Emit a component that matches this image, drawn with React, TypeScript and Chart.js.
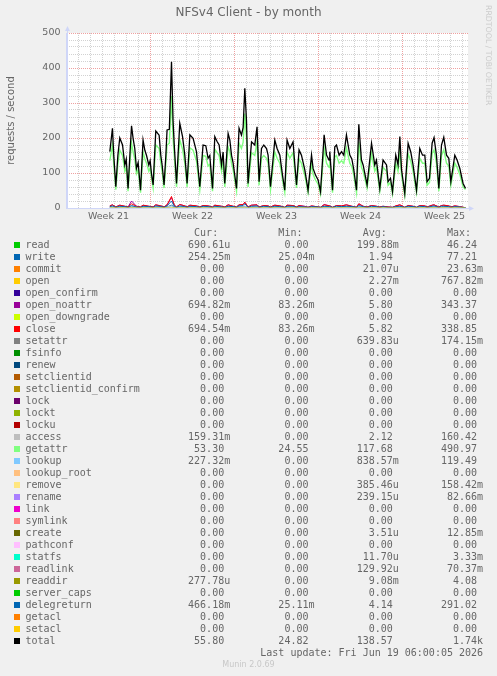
import React, { useEffect, useRef } from "react";
import { Chart, registerables } from "chart.js";

Chart.register(...registerables);

const TITLE = "NFSv4 Client - by month";
const Y_TITLE = "requests / second";
const WATERMARK = "RRDTOOL / TOBI OETIKER";
const LAST_UPDATE = "Last update: Fri Jun 19 06:00:05 2026";
const VERSION = "Munin 2.0.69";

const weekLabels = ["Week 21", "Week 22", "Week 23", "Week 24", "Week 25"];
const weekLabelDays = [3.5, 10.5, 17.5, 24.5, 31.5];
const X_MAX_DAYS = 33.46;
const Y_MAX = 500;
const Y_STEP = 20;

// time in days from left edge of graph
const totalTimes = [
  3.61, 3.83, 3.94, 4.11, 4.28, 4.44, 4.67, 4.86, 4.98, 5.13,
  5.28, 5.42, 5.55, 5.69, 5.83, 5.97, 6.17, 6.38, 6.53, 6.67,
  6.86, 6.97, 7.08, 7.22, 7.44, 7.72, 7.86, 7.98, 8.13, 8.28,
  8.38, 8.57, 8.75, 8.88, 8.98, 9.17, 9.44, 9.67, 9.86, 10.05,
  10.28, 10.55, 10.83, 11.11, 11.38, 11.61, 11.8, 11.94, 12.17, 12.36,
  12.55, 12.72, 12.92, 13.05, 13.19, 13.47, 13.61, 13.75, 13.88, 14.17,
  14.38, 14.58, 14.72, 14.86, 15.0, 15.13, 15.42, 15.69, 15.88, 16.05,
  16.25, 16.44, 16.67, 16.8, 17.0, 17.36, 17.55, 17.78, 18.0, 18.19,
  18.38, 18.61, 18.88, 19.03, 19.17, 19.38, 19.58, 19.86, 20.13, 20.42,
  20.55, 20.75, 20.97, 21.17, 21.47, 21.67, 21.88, 21.94, 22.17, 22.36,
  22.5, 22.72, 22.92, 23.11, 23.33, 23.47, 23.61, 23.78, 23.94, 24.17,
  24.36, 24.58, 24.72, 25.05, 25.42, 25.69, 25.83, 26.11, 26.38, 26.67,
  26.8, 27.0, 27.17, 27.44, 27.63, 27.78, 27.92, 28.19, 28.47, 28.69,
  28.88, 29.17, 29.44, 29.67, 29.86, 30.05, 30.25, 30.47, 30.63, 30.83,
  31.03, 31.25, 31.44, 31.67, 31.86, 32.03, 32.36, 32.55, 32.78, 32.92,
  33.05, 33.25,
];
const totalValues = [
  161, 228, 150, 61, 150, 200, 180, 123, 140, 56,
  150, 235, 199, 170, 113, 130, 51, 194, 165, 150,
  123, 135, 99, 66, 220, 208, 150, 120, 66, 150,
  223, 225, 418, 250, 180, 70, 242, 204, 151, 70,
  209, 199, 161, 61, 180, 178, 142, 150, 56, 204,
  190, 180, 123, 160, 70, 213, 195, 151, 130, 56,
  228, 208, 230, 342, 250, 70, 189, 180, 232, 75,
  170, 180, 170, 151, 61, 194, 170, 151, 94, 51,
  194, 170, 189, 123, 66, 166, 151, 109, 51, 151,
  113, 94, 80, 47, 209, 151, 137, 161, 51, 175,
  180, 151, 161, 151, 209, 180, 151, 140, 110, 51,
  239, 137, 123, 66, 185, 123, 137, 56, 137, 123,
  75, 85, 47, 151, 123, 204, 110, 42, 185, 160,
  123, 51, 170, 151, 151, 75, 85, 185, 201, 151,
  56, 180, 202, 151, 142, 75, 151, 137, 113, 90,
  70, 56,
];
const getattrValues = [
  135, 180, 125, 52, 125, 165, 150, 105, 118, 48,
  125, 185, 160, 140, 98, 110, 44, 160, 140, 128,
  105, 115, 86, 57, 180, 170, 128, 102, 57, 128,
  180, 185, 320, 200, 150, 60, 195, 168, 128, 60,
  172, 165, 135, 52, 150, 148, 120, 125, 48, 168,
  158, 150, 105, 133, 60, 175, 162, 128, 110, 48,
  185, 170, 188, 270, 200, 60, 158, 150, 190, 65,
  142, 150, 142, 128, 52, 160, 142, 128, 80, 44,
  160, 142, 158, 105, 57, 140, 128, 93, 44, 128,
  96, 80, 68, 40, 172, 128, 116, 135, 44, 146,
  150, 128, 135, 128, 172, 150, 128, 118, 94, 44,
  190, 116, 105, 57, 155, 105, 116, 48, 116, 105,
  65, 73, 40, 128, 105, 168, 94, 36, 155, 134,
  105, 44, 142, 128, 128, 65, 73, 155, 166, 128,
  48, 150, 166, 128, 120, 65, 128, 116, 96, 77,
  60, 53,
];

const smallTimes = [
  3.61, 3.83, 4.11, 4.44, 4.86, 5.13, 5.42, 5.83, 6.17, 6.38,
  6.86, 7.22, 7.44, 7.86, 8.13, 8.38, 8.75, 8.98, 9.17, 9.44,
  9.86, 10.05, 10.28, 10.83, 11.11, 11.38, 11.8, 12.17, 12.36, 12.92,
  13.19, 13.47, 13.88, 14.17, 14.38, 14.72, 14.86, 15.13, 15.42, 15.88,
  16.05, 16.44, 16.8, 17.0, 17.36, 17.78, 18.19, 18.38, 18.88, 19.17,
  19.38, 19.86, 20.13, 20.42, 20.97, 21.17, 21.47, 21.94, 22.17, 22.5,
  22.92, 23.33, 23.78, 24.17, 24.36, 24.72, 25.05, 25.42, 25.83, 26.11,
  26.38, 26.8, 27.17, 27.44, 27.78, 28.19, 28.47, 28.88, 29.17, 29.44,
  29.86, 30.05, 30.47, 30.63, 31.03, 31.25, 31.44, 31.86, 32.03, 32.36,
  32.78, 33.25,
];
const closeValues = [
  6, 9, 3, 8, 5, 3, 12, 5, 3, 8,
  5, 3, 9, 6, 3, 9, 33, 8, 3, 10,
  6, 3, 8, 6, 3, 7, 6, 3, 8, 5,
  3, 9, 5, 3, 9, 10, 17, 3, 8, 9,
  3, 7, 6, 3, 8, 6, 2, 8, 7, 3,
  7, 4, 2, 6, 3, 2, 9, 6, 2, 7,
  6, 9, 5, 2, 12, 5, 3, 7, 5, 3,
  5, 3, 2, 6, 9, 2, 7, 5, 2, 7,
  6, 3, 8, 9, 3, 7, 8, 6, 3, 6,
  4, 0.7,
];
const openNoattrValues = [
  6, 9, 3, 8, 5, 3, 20, 5, 3, 8,
  5, 3, 9, 6, 3, 9, 30, 8, 3, 10,
  6, 3, 8, 6, 3, 7, 6, 3, 8, 5,
  3, 9, 5, 3, 9, 10, 15, 3, 8, 9,
  3, 7, 6, 3, 8, 6, 2, 8, 7, 3,
  7, 5, 2, 6, 3, 2, 10, 6, 2, 7,
  6, 9, 5, 2, 12, 5, 3, 7, 5, 3,
  5, 3, 2, 6, 9, 2, 7, 5, 2, 7,
  6, 3, 8, 9, 3, 7, 8, 6, 3, 6,
  4, 0.7,
];
const delegreturnValues = [
  4, 6, 2, 5, 4, 2, 7, 3, 2, 5,
  4, 2, 6, 4, 2, 6, 20, 5, 2, 6,
  4, 2, 5, 4, 2, 5, 4, 2, 5, 3,
  2, 5, 4, 2, 6, 7, 12, 2, 5, 6,
  2, 5, 4, 2, 5, 4, 2, 5, 5, 2,
  4, 3, 2, 4, 3, 2, 5, 4, 2, 5,
  4, 5, 4, 2, 7, 4, 2, 5, 4, 2,
  4, 2, 2, 4, 5, 2, 5, 4, 2, 5,
  4, 2, 5, 6, 2, 5, 5, 4, 2, 4,
  3, 0.5,
];
const writeValues = [
  2, 3, 1, 2, 2, 1, 3, 2, 1, 2,
  2, 1, 3, 2, 1, 3, 8, 3, 1, 3,
  2, 1, 3, 2, 1, 2, 2, 1, 3, 2,
  1, 3, 2, 1, 3, 3, 5, 1, 2, 3,
  1, 2, 2, 1, 2, 2, 1, 2, 2, 1,
  2, 2, 1, 2, 1, 1, 3, 2, 1, 2,
  2, 3, 2, 1, 3, 2, 1, 2, 2, 1,
  2, 1, 1, 2, 3, 1, 2, 2, 1, 2,
  2, 1, 2, 3, 1, 2, 3, 2, 1, 2,
  2, 0.25,
];
const accessValues = [
  2, 3, 1, 3, 2, 1, 3, 2, 1, 3,
  2, 1, 3, 2, 1, 3, 6, 2, 1, 3,
  2, 1, 3, 2, 1, 2, 2, 1, 3, 2,
  1, 3, 2, 1, 3, 3, 5, 1, 3, 3,
  1, 2, 2, 1, 3, 2, 1, 3, 2, 1,
  2, 2, 1, 2, 1, 1, 3, 2, 1, 2,
  2, 3, 2, 1, 3, 2, 1, 2, 2, 1,
  2, 1, 1, 2, 3, 1, 2, 2, 1, 3,
  2, 1, 3, 3, 1, 2, 3, 2, 1, 2,
  2, 0.16,
];
const lookupValues = [
  1, 1, 0.3, 1, 1, 0.3, 1.5, 0.8, 0.3, 1,
  0.8, 0.3, 1, 1, 0.3, 1, 3, 1, 0.3, 1.5,
  1, 0.3, 1, 1, 0.3, 1, 0.8, 0.3, 1, 0.8,
  0.3, 1, 0.8, 0.3, 1, 1, 2, 0.3, 1, 1,
  0.3, 1, 0.8, 0.3, 1, 0.8, 0.3, 1, 1, 0.3,
  1, 0.6, 0.3, 0.8, 0.4, 0.3, 1, 1, 0.3, 1,
  1, 1, 0.8, 0.3, 1.5, 0.8, 0.3, 1, 0.8, 0.3,
  0.8, 0.4, 0.3, 0.8, 1, 0.3, 1, 0.8, 0.3, 1,
  0.8, 0.4, 1, 1, 0.3, 1, 1, 0.8, 0.4, 0.8,
  0.6, 0.23,
];
const baselineTimes = [3.61, 33.25];
const setaclValues = [0, 0];

const legendNames = [
  "read", "write", "commit", "open", "open_confirm", "open_noattr", "open_downgrade",
  "close", "setattr", "fsinfo", "renew", "setclientid", "setclientid_confirm", "lock",
  "lockt", "locku", "access", "getattr", "lookup", "lookup_root", "remove", "rename",
  "link", "symlink", "create", "pathconf", "statfs", "readlink", "readdir", "server_caps",
  "delegreturn", "getacl", "setacl", "total",
];
const legendColors = [
  "#00CC00", "#0066B3", "#FF8000", "#FFCC00", "#330099", "#990099", "#CCFF00",
  "#FF0000", "#808080", "#008F00", "#00487D", "#B35A00", "#B38F00", "#6B006B",
  "#8FB300", "#B30000", "#BEBEBE", "#80FF80", "#80C9FF", "#FFC080", "#FFE680", "#AA80FF",
  "#EE00CC", "#FF8080", "#666600", "#FFBFFF", "#00FFCC", "#CC6699", "#999900", "#00CC00",
  "#0066B3", "#FF8000", "#FFCC00", "#000000",
];
const legendCur = [
  "690.61u", "254.25m", "0.00", "0.00", "0.00", "694.82m", "0.00",
  "694.54m", "0.00", "0.00", "0.00", "0.00", "0.00", "0.00",
  "0.00", "0.00", "159.31m", "53.30", "227.32m", "0.00", "0.00", "0.00",
  "0.00", "0.00", "0.00", "0.00", "0.00", "0.00", "277.78u", "0.00",
  "466.18m", "0.00", "0.00", "55.80",
];
const legendMin = [
  "0.00", "25.04m", "0.00", "0.00", "0.00", "83.26m", "0.00",
  "83.26m", "0.00", "0.00", "0.00", "0.00", "0.00", "0.00",
  "0.00", "0.00", "0.00", "24.55", "0.00", "0.00", "0.00", "0.00",
  "0.00", "0.00", "0.00", "0.00", "0.00", "0.00", "0.00", "0.00",
  "25.11m", "0.00", "0.00", "24.82",
];
const legendAvg = [
  "199.88m", "1.94", "21.07u", "2.27m", "0.00", "5.80", "0.00",
  "5.82", "639.83u", "0.00", "0.00", "0.00", "0.00", "0.00",
  "0.00", "0.00", "2.12", "117.68", "838.57m", "0.00", "385.46u", "239.15u",
  "0.00", "0.00", "3.51u", "0.00", "11.70u", "129.92u", "9.08m", "0.00",
  "4.14", "0.00", "0.00", "138.57",
];
const legendMax = [
  "46.24", "77.21", "23.63m", "767.82m", "0.00", "343.37", "0.00",
  "338.85", "174.15m", "0.00", "0.00", "0.00", "0.00", "0.00",
  "0.00", "0.00", "160.42", "490.97", "119.49", "0.00", "158.42m", "82.66m",
  "0.00", "0.00", "12.85m", "0.00", "3.33m", "70.37m", "4.08", "0.00",
  "291.02", "0.00", "0.00", "1.74k",
];

const FONT_COLOR = "#666666";
const AXIS_COLOR = "#CFD6F8";
const MINOR_GRID = "#D2D2D2";
const MAJOR_GRID = "#EFA0A0";

function colorOf(name: string) {
  return legendColors[legendNames.indexOf(name)];
}

function series(name: string, times: number[], values: number[], width = 1) {
  return {
    label: name,
    data: times.map((t, i) => ({ x: t, y: values[i] })),
    borderColor: colorOf(name),
    backgroundColor: colorOf(name),
    borderWidth: width,
    pointRadius: 0,
    tension: 0,
    fill: false,
  };
}

const bgPlugin = {
  id: "canvasBg",
  beforeDraw(chart: any) {
    const { ctx, chartArea: a } = chart;
    ctx.save();
    ctx.fillStyle = "#FFFFFF";
    ctx.fillRect(a.left, a.top, a.right - a.left, a.bottom - a.top);
    ctx.restore();
  },
};

const arrowPlugin = {
  id: "rrdArrows",
  afterDraw(chart: any) {
    const { ctx, chartArea: a } = chart;
    const x0 = Math.round(a.left) + 0.5;
    const y0 = Math.round(a.bottom) + 0.5;
    ctx.save();
    ctx.strokeStyle = AXIS_COLOR;
    ctx.fillStyle = AXIS_COLOR;
    ctx.lineWidth = 1;
    ctx.beginPath();
    ctx.moveTo(x0, a.bottom);
    ctx.lineTo(x0, a.top - 3);
    ctx.moveTo(a.left, y0);
    ctx.lineTo(a.right + 2, y0);
    ctx.stroke();
    ctx.beginPath();
    ctx.moveTo(x0, a.top - 7);
    ctx.lineTo(x0 - 2.5, a.top - 2);
    ctx.lineTo(x0 + 2.5, a.top - 2);
    ctx.closePath();
    ctx.fill();
    ctx.beginPath();
    ctx.moveTo(a.right + 6, y0);
    ctx.lineTo(a.right + 1, y0 - 2.5);
    ctx.lineTo(a.right + 1, y0 + 2.5);
    ctx.closePath();
    ctx.fill();
    ctx.restore();
  },
};

function fmtVal(v: string) {
  return /[a-zA-Z]$/.test(v) ? v : v + " ";
}

function legendLine(i: number) {
  return (
    legendNames[i].padEnd(27) +
    fmtVal(legendCur[i]).padStart(7) +
    fmtVal(legendMin[i]).padStart(14) +
    fmtVal(legendAvg[i]).padStart(14) +
    fmtVal(legendMax[i]).padStart(14)
  );
}

const HEADER_LINE =
  " ".repeat(27) + "Cur:  ".padStart(7) + "Min:  ".padStart(14) + "Avg:  ".padStart(14) + "Max:  ".padStart(14);

const ROW0_TOP = 238.5;
const ROW_H = 12;
const TEXT_LEFT = 25.5;

export default function App() {
  const ref = useRef<HTMLCanvasElement | null>(null);

  useEffect(() => {
    const canvas = ref.current;
    if (!canvas) return;
    const xTicks: { value: number }[] = [];
    for (let d = 0; d <= Math.floor(X_MAX_DAYS); d += 0.5) xTicks.push({ value: d });

    const datasets = [
      series("write", smallTimes, writeValues),
      series("open_noattr", smallTimes, openNoattrValues),
      series("close", smallTimes, closeValues),
      series("access", smallTimes, accessValues),
      series("getattr", totalTimes, getattrValues, 1.4),
      series("lookup", smallTimes, lookupValues),
      series("delegreturn", smallTimes, delegreturnValues),
      series("setacl", baselineTimes, setaclValues),
      series("total", totalTimes, totalValues, 1.3),
    ].map((ds, i, arr) => ({ ...ds, order: arr.length - i }));

    const tickFont = { family: "DejaVu Sans", size: 9.5 };

    const chart = new Chart(canvas, {
      type: "line",
      data: { datasets: datasets as any },
      options: {
        animation: false,
        responsive: false,
        maintainAspectRatio: false,
        devicePixelRatio: 1,
        layout: { padding: 0 },
        plugins: {
          legend: { display: false },
          tooltip: { enabled: false },
          title: {
            display: true,
            text: TITLE,
            color: FONT_COLOR,
            font: { family: "DejaVu Sans", size: 12, weight: "normal" },
            padding: { top: 5.6, bottom: 13 },
          },
        },
        scales: {
          x: {
            type: "linear",
            min: 0,
            max: X_MAX_DAYS,
            afterBuildTicks: (scale: any) => {
              scale.ticks = xTicks.map((t) => ({ ...t }));
            },
            afterFit: (scale: any) => {
              scale.height = 468;
            },
            grid: {
              drawTicks: false,
              lineWidth: 1,
              color: (ctx: any) => {
                const v = ctx.tick ? ctx.tick.value : 0;
                if (!Number.isInteger(v)) return "rgba(0,0,0,0)";
                return v % 7 === 0 ? MAJOR_GRID : MINOR_GRID;
              },
            },
            border: { display: true, color: AXIS_COLOR, width: 1, dash: [1, 1] },
            ticks: {
              autoSkip: false,
              maxRotation: 0,
              minRotation: 0,
              padding: 3,
              color: FONT_COLOR,
              font: tickFont,
              callback: (value: any) => {
                const idx = weekLabelDays.indexOf(Number(value));
                return idx >= 0 ? weekLabels[idx] : "";
              },
            },
          },
          y: {
            type: "linear",
            min: 0,
            max: Y_MAX,
            afterFit: (scale: any) => {
              scale.width = 66.5;
            },
            grid: {
              drawTicks: false,
              lineWidth: 1,
              color: (ctx: any) => {
                const v = ctx.tick ? ctx.tick.value : 0;
                return v % 100 === 0 ? MAJOR_GRID : MINOR_GRID;
              },
            },
            border: { display: true, color: AXIS_COLOR, width: 1, dash: [1, 1] },
            ticks: {
              stepSize: Y_STEP,
              autoSkip: false,
              padding: 6,
              color: FONT_COLOR,
              font: tickFont,
              callback: (value: any) => (Number(value) % 100 === 0 ? String(value) : ""),
            },
            title: {
              display: true,
              text: Y_TITLE,
              color: FONT_COLOR,
              font: { family: "DejaVu Sans", size: 10 },
              padding: { top: 5, bottom: 0 },
            },
          },
          yRight: {
            type: "linear",
            position: "right",
            display: true,
            afterFit: (scale: any) => {
              scale.width = 29;
            },
            grid: { display: false },
            border: { display: false },
            ticks: { display: false },
          },
        },
      } as any,
      plugins: [bgPlugin, arrowPlugin],
    });
    return () => chart.destroy();
  }, []);

  const mono: React.CSSProperties = {
    position: "absolute",
    left: TEXT_LEFT,
    fontFamily: "'DejaVu Sans Mono', monospace",
    fontSize: 10,
    lineHeight: "12px",
    height: 12,
    whiteSpace: "pre",
    color: FONT_COLOR,
  };

  return (
    <div
      style={{
        position: "absolute",
        left: 0,
        top: 0,
        width: 497,
        height: 676,
        background: "#F0F0F0",
        overflow: "hidden",
      }}
    >
      <canvas
        ref={ref}
        width={497}
        height={676}
        style={{ position: "absolute", left: 0, top: 0, width: 497, height: 676 }}
      />
      <div
        style={{
          position: "absolute",
          left: 484,
          top: 5,
          writingMode: "vertical-rl",
          fontFamily: "'DejaVu Sans', sans-serif",
          fontSize: 7.8,
          lineHeight: "8px",
          whiteSpace: "nowrap",
          color: "#CCCCCC",
        }}
      >
        {WATERMARK}
      </div>
      <div style={{ ...mono, top: ROW0_TOP - ROW_H }}>{HEADER_LINE}</div>
      {legendNames.map((name, i) => (
        <React.Fragment key={name}>
          <div
            style={{
              position: "absolute",
              left: 14,
              top: 242 + ROW_H * i,
              width: 6,
              height: 6,
              background: legendColors[i],
            }}
          />
          <div style={{ ...mono, top: ROW0_TOP + ROW_H * i }}>{legendLine(i)}</div>
        </React.Fragment>
      ))}
      <div style={{ ...mono, top: ROW0_TOP + ROW_H * legendNames.length }}>
        {LAST_UPDATE.padStart(76)}
      </div>
      <div
        style={{
          position: "absolute",
          left: 0,
          width: 497,
          top: 659,
          textAlign: "center",
          fontFamily: "'DejaVu Sans', sans-serif",
          fontSize: 8,
          lineHeight: "12px",
          color: "#C8C8C8",
        }}
      >
        {VERSION}
      </div>
    </div>
  );
}
